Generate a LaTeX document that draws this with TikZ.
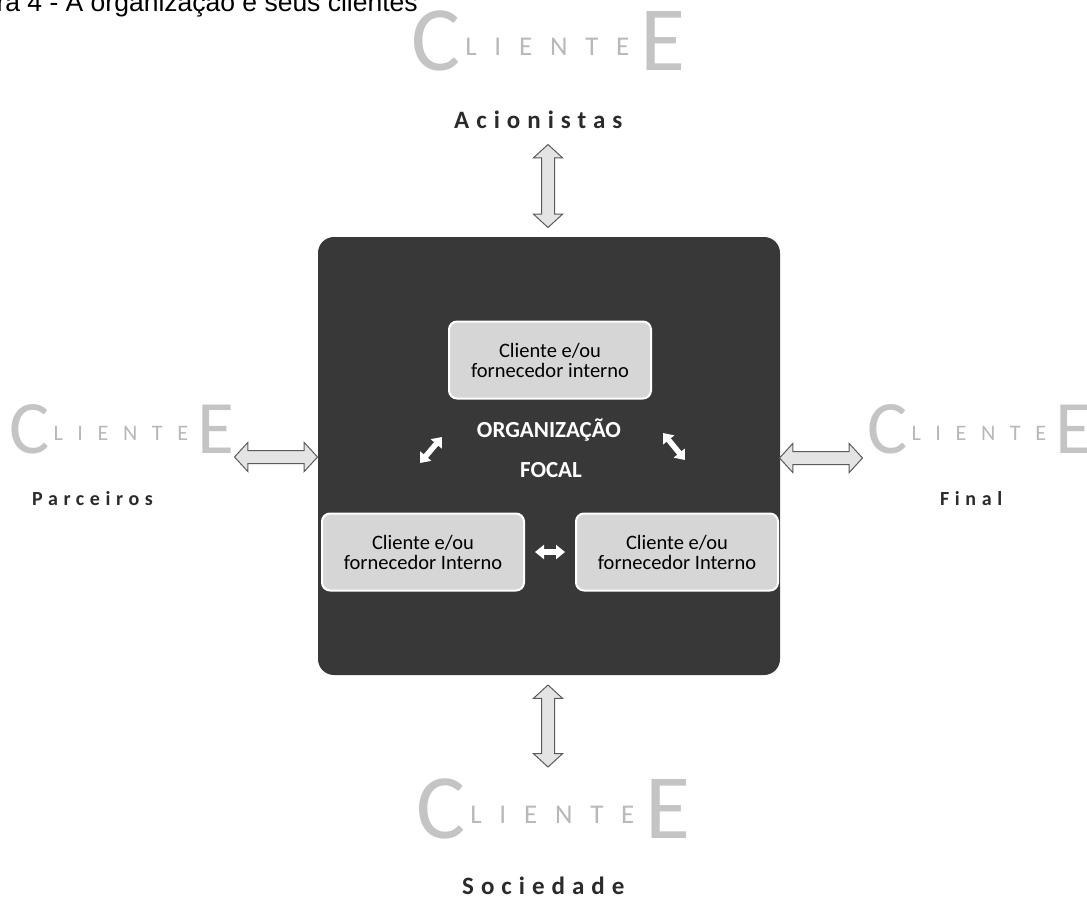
\documentclass[tikz,border=0pt]{standalone}
\usepackage{fontspec}
\usepackage{graphicx}
\setmainfont{Carlito}
\newfontfamily\titlefont{Liberation Sans}
\newfontfamily\logospaced[LetterSpace=66]{Carlito}
\newfontfamily\labelfont[LetterSpace=28]{Carlito}
\usepackage{tikz}
\usetikzlibrary{shapes.arrows, arrows.meta, positioning}

\definecolor{orgdark}{HTML}{383838}
\definecolor{intgray}{HTML}{D6D6D6}
\definecolor{logobig}{HTML}{C4C4C4}
\definecolor{logosmall}{HTML}{B8B8B8}
\definecolor{labeldark}{HTML}{2B2B2B}
\definecolor{arrowfill}{HTML}{E4E4E4}
\definecolor{arrowline}{HTML}{5A5A5A}

% logo "CLIENTE E", optional scale
\newcommand{\clientelogo}[1][1]{\scalebox{#1}{%
  {\fontsize{92}{92}\selectfont\color{logobig}C}%
  \hspace{5pt}%
  \raisebox{15pt}{\logospaced\fontsize{27}{27}\selectfont\color{logosmall}LIENTE}%
  \hspace{11pt}%
  {\fontsize{92}{92}\selectfont\color{logobig}E}}}

\begin{document}
\begin{tikzpicture}[
    x=1pt, y=-1pt,
    orgbox/.style={rectangle, fill=orgdark, rounded corners=16pt, minimum width=462pt, minimum height=438pt},
    intbox/.style={rectangle, draw=white, line width=2pt, fill=intgray, rounded corners=8pt, minimum width=202pt, minimum height=77pt, align=center, text=black, font=\fontsize{20.5}{20}\selectfont},
    orgtext/.style={text=white, font=\bfseries\fontsize{23}{23}\selectfont, inner sep=0pt},
    logo/.style={inner sep=0pt, anchor=base west},
    clabel/.style={inner sep=0pt, anchor=base west, text=labeldark, font=\labelfont\bfseries\fontsize{25}{25}\selectfont},
    sidelabel/.style={clabel, font=\labelfont\bfseries\fontsize{20}{20}\selectfont},
    bigarrow/.style={double arrow, draw=arrowline, line width=1pt, fill=arrowfill, inner xsep=0pt, inner ysep=6pt, double arrow head extend=8pt, double arrow tip angle=95},
    smallarrow/.style={draw=white, line width=5.5pt, {Triangle[width=14pt,length=9pt]}-{Triangle[width=14pt,length=9pt]}}
]
    \useasboundingbox (0,0) rectangle (1087,900);
    \clip (0,0) rectangle (1087,900);
    \fill[white] (0,0) rectangle (1087,900);

    \node [inner sep=0pt, anchor=base east, font=\titlefont\fontsize{26.5}{26.5}\selectfont] (title) at (418,11) {Figura 4 - A organização e seus clientes};

    \node [orgbox] (org) at (549,456) {};
    \node [intbox] (intTop) at (550,360) {Cliente e/ou\\fornecedor interno};
    \node [intbox] (intLeft) at (423,552) {Cliente e/ou\\fornecedor Interno};
    \node [intbox] (intRight) at (677,552) {Cliente e/ou\\fornecedor Interno};
    \node [orgtext, anchor=base] (orgName) at (549,437) {ORGANIZAÇÃO};
    \node [orgtext, anchor=base] (orgFocal) at (551,477) {FOCAL};

    % outside clients
    \node [logo] (logoTop) at (411,70) {\clientelogo};
    \node [clabel] (acion) at (454,128) {Acionistas};
    \node [logo] (logoLeft) at (9,453) {\clientelogo[0.82]};
    \node [sidelabel] (parc) at (32,505) {Parceiros};
    \node [logo] (logoRight) at (867,453) {\clientelogo[0.82]};
    \node [sidelabel] (final) at (940,505) {Final};
    \node [logo] (logoBottom) at (416,838) {\clientelogo};
    \node [clabel] (socied) at (462,894) {Sociedade};

    \node [bigarrow, minimum height=83pt, rotate=90] (arrTop) at (548,186) {};
    \node [bigarrow, minimum height=82pt, rotate=90] (arrBottom) at (548,726) {};
    \node [bigarrow, minimum height=83pt] (arrLeft) at (276,457) {};
    \node [bigarrow, minimum height=83pt] (arrRight) at (821,458) {};

    % internal exchanges
    \coordinate (dl1) at (420,463);
    \coordinate (dl2) at (442,437);
    \coordinate (dr1) at (663,433);
    \coordinate (dr2) at (685,460);
    \draw [smallarrow] (dl1) -- (dl2);
    \draw [smallarrow] (dr1) -- (dr2);
    \draw [smallarrow, shorten <=10pt, shorten >=10pt] (intLeft) -- (intRight);
\end{tikzpicture}
\end{document}
